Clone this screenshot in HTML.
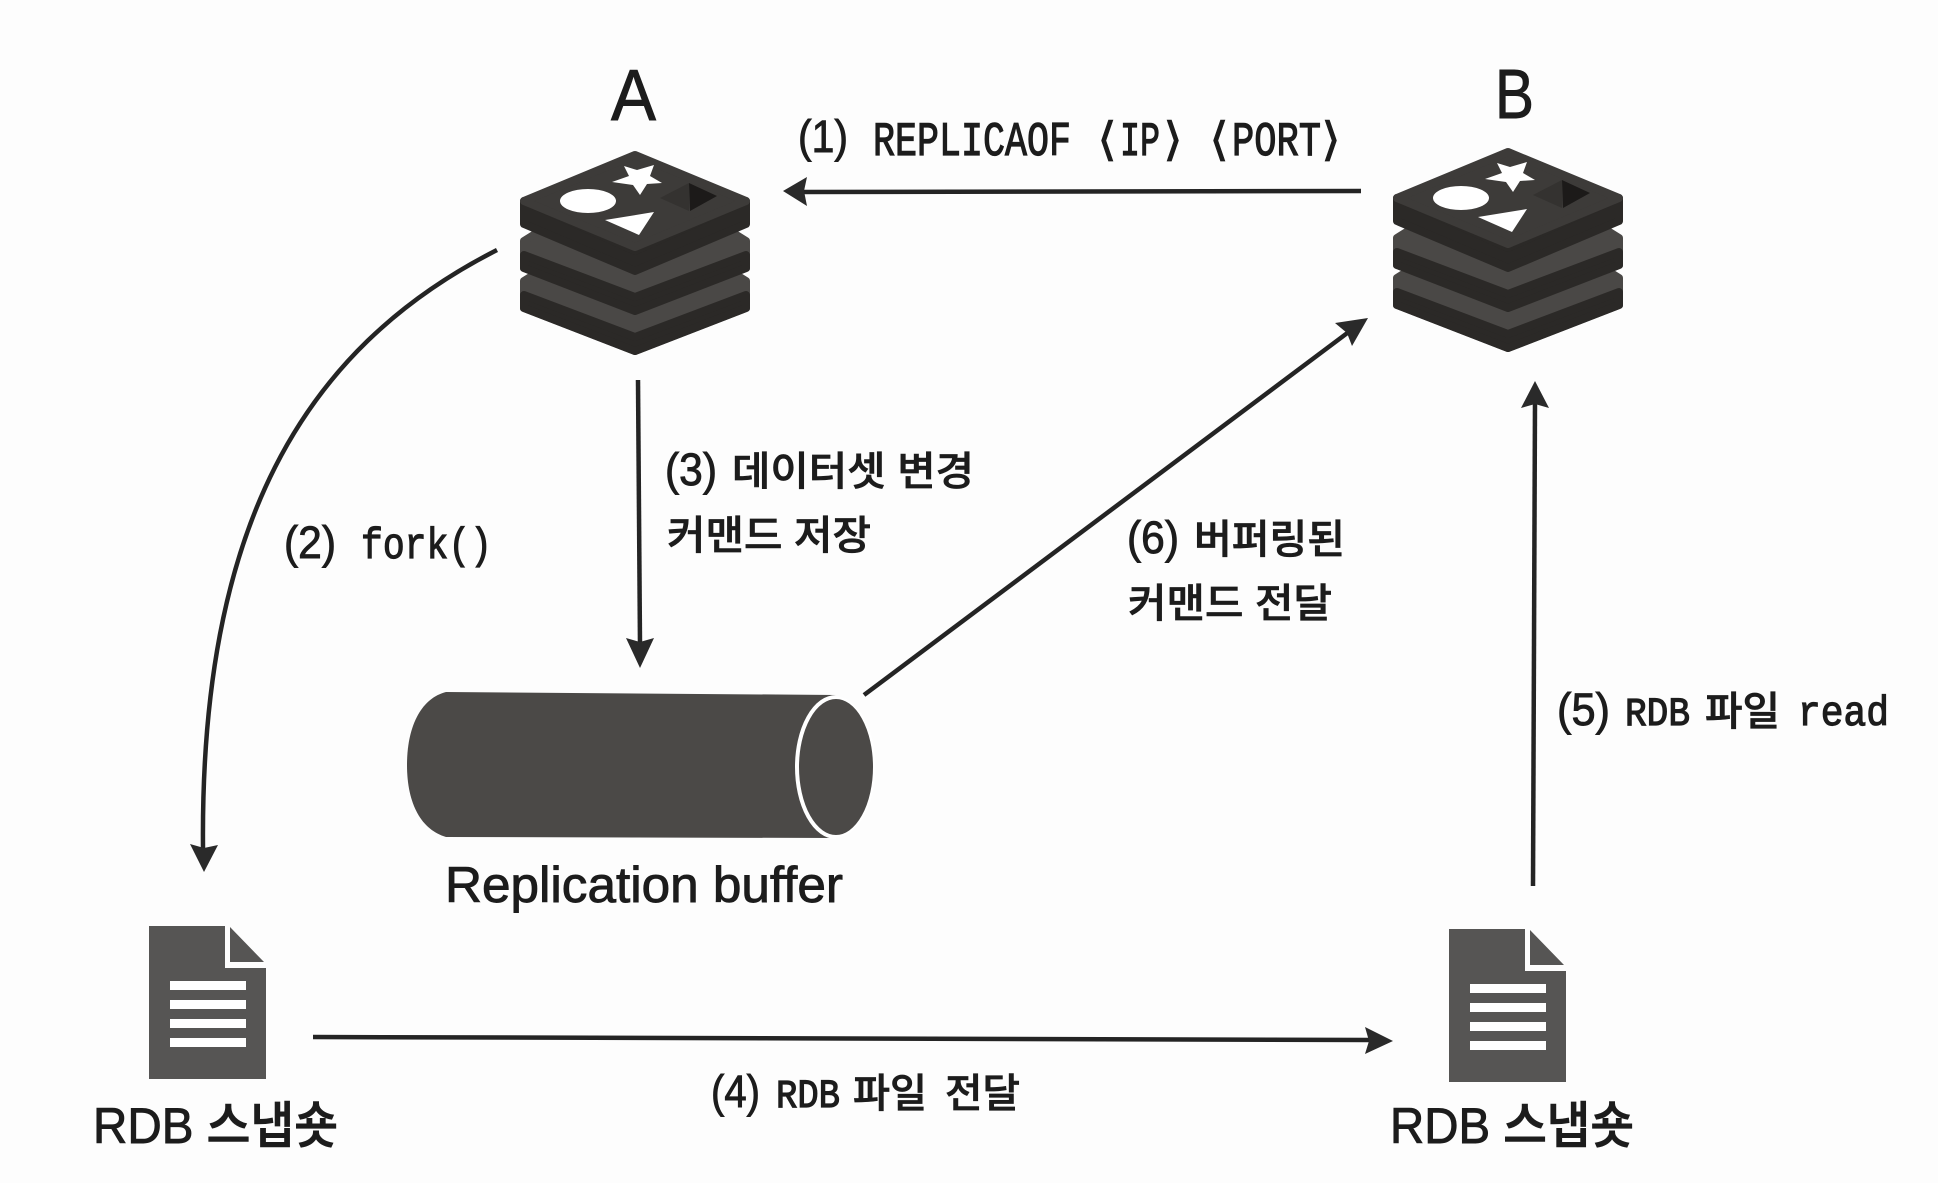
<!DOCTYPE html>
<html lang="ko">
<head>
<meta charset="utf-8">
<title>Redis replication diagram</title>
<style>
html,body{margin:0;padding:0;background:#fdfdfd;width:1938px;height:1183px;overflow:hidden}
svg{display:block}
.s{font-family:"Liberation Sans","Noto Sans CJK KR",sans-serif;fill:#1c1c1c;stroke:#1c1c1c;stroke-width:.9}
.k{font-family:"Liberation Sans","Noto Sans CJK KR",sans-serif;font-weight:500;fill:#1c1c1c;font-size:40px;stroke:#1c1c1c;stroke-width:.7}
.p{font-family:"Liberation Sans",sans-serif;fill:#1c1c1c;font-size:45px;stroke:#1c1c1c;stroke-width:.9}
.m{font-family:"Liberation Mono",monospace;fill:#1c1c1c;stroke:#1c1c1c;stroke-width:1.2}
.b{font-family:"DejaVu Sans",sans-serif;fill:#1c1c1c;stroke:#1c1c1c;stroke-width:.6;font-size:46px}
.ln{fill:none;stroke:#242424;stroke-width:4.5}
.ah{fill:#2a2a2a}
</style>
</head>
<body>
<svg xmlns="http://www.w3.org/2000/svg" width="1938" height="1183" viewBox="0 0 1938 1183">
<defs>
<g id="redis" stroke-linejoin="round" stroke-width="8">
  <path d="M-111,130 L-95,120 L0,160 L95,120 L111,130 L111,157 L0,200 L-111,157Z" fill="#4a4846" stroke="#4a4846"/>
  <path d="M-111,144 L0,186 L111,144 L111,157 L0,200 L-111,157Z" fill="#2b2927" stroke="#2b2927"/>
  <path d="M-111,90 L-95,80 L0,118 L95,80 L111,90 L111,117 L0,160 L-111,117Z" fill="#4a4846" stroke="#4a4846"/>
  <path d="M-111,104 L0,146 L111,104 L111,117 L0,160 L-111,117Z" fill="#2b2927" stroke="#2b2927"/>
  <path d="M-111,50 L0,100 L111,50 L111,73 L0,120 L-111,73Z" fill="#2b2927" stroke="#2b2927"/>
  <path d="M0,4 L111,50 L0,96 L-111,50Z" fill="#3d3b39" stroke="#3d3b39"/>
  <ellipse cx="-47" cy="50" rx="28" ry="12" fill="#fff"/>
  <path d="M-11,15 L2,19 L19,14 L15,25 L27,32 L12,33 L5,44 L-2,34 L-23,31 L-6,25Z" fill="#fff"/>
  <path d="M-30,69 L19,61 L4,84Z" fill="#fff"/>
  <path d="M25,47 L54,32 L54,60Z" fill="#343230"/>
  <path d="M54,32 L82,45 L55,60Z" fill="#1c1a19"/>
</g>
<g id="doc" fill="#565554">
  <path d="M0,0 H76 V42 H117 V153 H0Z"/>
  <path d="M81,1 L115,36 H81Z"/>
  <rect x="21" y="55" width="76" height="9" fill="#fff"/>
  <rect x="21" y="74" width="76" height="9" fill="#fff"/>
  <rect x="21" y="93" width="76" height="9" fill="#fff"/>
  <rect x="21" y="112" width="76" height="9" fill="#fff"/>
</g>
</defs>

<rect width="1938" height="1183" fill="#fdfdfd"/>

<!-- nodes -->
<use href="#redis" x="635" y="151"/>
<use href="#redis" x="1508" y="148"/>

<text class="s" x="611" y="120" font-size="72" textLength="45" lengthAdjust="spacingAndGlyphs">A</text>
<text class="s" x="1495" y="118" font-size="70" textLength="39" lengthAdjust="spacingAndGlyphs">B</text>

<!-- cylinder -->
<path d="M446,692 L836,695 L836,838 L446,837 C422,830 407,805 407,765 C407,725 422,698 446,692Z" fill="#4b4947"/>
<ellipse cx="836" cy="767" rx="39" ry="70" fill="#4b4947" stroke="#fff" stroke-width="4"/>
<path d="M836,695 C858,695 877,727 877,767 C877,807 858,839 836,839" fill="none" stroke="#fdfdfd" stroke-width="3"/>

<text class="s" x="445" y="902" font-size="50" textLength="398" lengthAdjust="spacingAndGlyphs">Replication buffer</text>

<!-- documents -->
<use href="#doc" x="149" y="926"/>
<use href="#doc" x="1449" y="929"/>
<text class="s" x="93" y="1143" font-size="50" font-weight="500" textLength="245" lengthAdjust="spacingAndGlyphs">RDB 스냅숏</text>
<text class="s" x="1390" y="1143" font-size="50" font-weight="500" textLength="244" lengthAdjust="spacingAndGlyphs">RDB 스냅숏</text>

<!-- connectors -->
<path class="ln" d="M1361,191 L800,192"/>
<path class="ah" d="M783,191 L807,177 L804,191 L807,206Z"/>

<path class="ln" d="M497,250 C300,350 200,530 203,848"/>
<path class="ah" d="M204,872 L190,844 L204,848 L218,845Z"/>

<path class="ln" d="M638,380 L640,645"/>
<path class="ah" d="M640,668 L626,638 L640,642 L654,638Z"/>

<path class="ln" d="M864,695 L1350,331"/>
<path class="ah" d="M1368,318 L1352,346 L1347,333 L1335,323Z"/>

<path class="ln" d="M1533,886 L1535,400"/>
<path class="ah" d="M1535,381 L1521,408 L1535,404 L1549,408Z"/>

<path class="ln" d="M313,1037 L1370,1040"/>
<path class="ah" d="M1393,1041 L1365,1027 L1369,1041 L1365,1054Z"/>

<!-- labels -->
<text class="p" x="798" y="152" textLength="50" lengthAdjust="spacingAndGlyphs">(1)</text>
<text class="m" x="873" y="155" font-size="48" textLength="198" lengthAdjust="spacingAndGlyphs">REPLICAOF</text>
<text class="b" x="1097" y="155" textLength="20" lengthAdjust="spacingAndGlyphs">⟨</text>
<text class="m" x="1120" y="155" font-size="48" textLength="40" lengthAdjust="spacingAndGlyphs">IP</text>
<text class="b" x="1163" y="155" textLength="20" lengthAdjust="spacingAndGlyphs">⟩</text>
<text class="b" x="1209" y="155" textLength="20" lengthAdjust="spacingAndGlyphs">⟨</text>
<text class="m" x="1232" y="155" font-size="48" textLength="89" lengthAdjust="spacingAndGlyphs">PORT</text>
<text class="b" x="1321" y="155" textLength="20" lengthAdjust="spacingAndGlyphs">⟩</text>

<text class="p" x="284" y="558" textLength="52" lengthAdjust="spacingAndGlyphs">(2)</text>
<text class="m" x="361" y="558" font-size="44" textLength="131" lengthAdjust="spacingAndGlyphs">fork()</text>

<text class="p" x="665" y="485" textLength="52" lengthAdjust="spacingAndGlyphs">(3)</text>
<text class="k" x="732" y="485" textLength="242" lengthAdjust="spacingAndGlyphs">데이터셋 변경</text>
<text class="k" x="667" y="549" textLength="204" lengthAdjust="spacingAndGlyphs">커맨드 저장</text>

<text class="p" x="1127" y="553" textLength="52" lengthAdjust="spacingAndGlyphs">(6)</text>
<text class="k" x="1194" y="553" textLength="151" lengthAdjust="spacingAndGlyphs">버퍼링된</text>
<text class="k" x="1128" y="617" textLength="204" lengthAdjust="spacingAndGlyphs">커맨드 전달</text>

<text class="p" x="1557" y="725" textLength="53" lengthAdjust="spacingAndGlyphs">(5)</text>
<text class="m" x="1625" y="725" font-size="40" textLength="65" lengthAdjust="spacingAndGlyphs">RDB</text>
<text class="k" x="1705" y="725" textLength="75" lengthAdjust="spacingAndGlyphs">파일</text>
<text class="m" x="1798" y="725" font-size="42" textLength="91" lengthAdjust="spacingAndGlyphs">read</text>

<text class="p" x="711" y="1107" textLength="49" lengthAdjust="spacingAndGlyphs">(4)</text>
<text class="m" x="776" y="1107" font-size="40" textLength="64" lengthAdjust="spacingAndGlyphs">RDB</text>
<text class="k" x="853" y="1107" textLength="74" lengthAdjust="spacingAndGlyphs">파일</text>
<text class="k" x="945" y="1107" textLength="75" lengthAdjust="spacingAndGlyphs">전달</text>
</svg>
</body>
</html>
